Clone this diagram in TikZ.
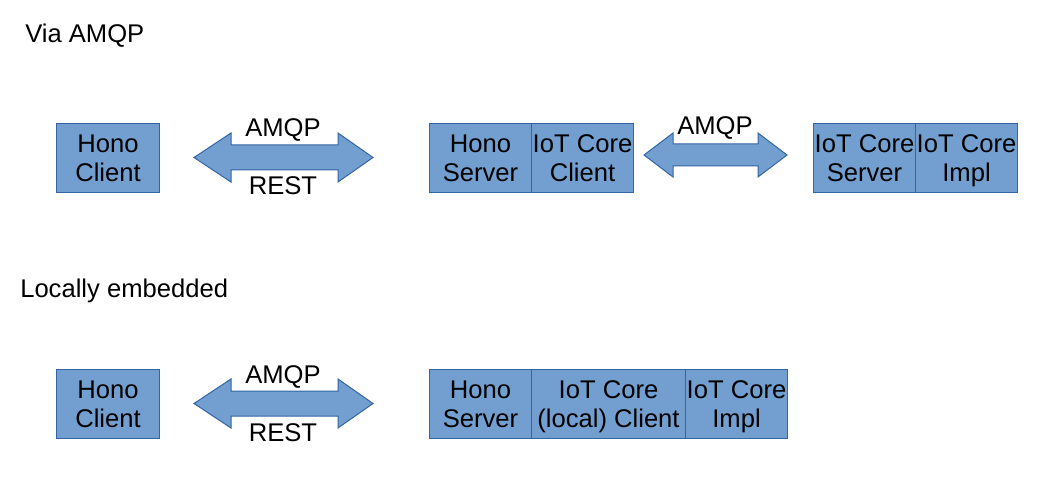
\documentclass[tikz,border=0pt]{standalone}
\usepackage{fontspec}
\setmainfont{Liberation Sans}
\definecolor{fillblue}{HTML}{729FCF}
\definecolor{lineblue}{HTML}{3465A4}
\newcommand{\mystrut}{\rule[-4.25pt]{0pt}{21.7pt}}
\newcommand{\twol}[2]{\mystrut #1\\\mystrut #2}
\begin{document}
\begin{tikzpicture}[x=0.75pt,y=-0.75pt,
  txt/.style={font=\fontsize{19.2}{21.75}\selectfont, inner sep=0},
  box/.style={txt, draw=lineblue, fill=fillblue, line width=0.75pt, align=center, anchor=north west, minimum height=51.75pt},
  arr/.style={draw=lineblue, fill=fillblue, line width=0.75pt, line join=miter},
  lbl/.style={txt, anchor=base}]
\useasboundingbox (0,0) rectangle (1042,481);
\fill[white] (0,0) rectangle (1042,481);

% titles
\node[txt, anchor=base west] (t1) at (25,43) {Via AMQP};
\node[txt, anchor=base west] (t2) at (20,297) {Locally embedded};

% top row
\node[box, minimum width=77.25pt] (hc1) at (56,123) {\twol{Hono}{Client}};
\node[box, minimum width=76.5pt] (hs1) at (429,123) {\twol{Hono}{Server}};
\node[box, minimum width=76.5pt] (icc1) at (531,123) {\twol{IoT Core}{Client}};
\node[box, minimum width=76.5pt] (ics1) at (813,123) {\twol{IoT Core}{Server}};
\node[box, minimum width=76.5pt] (ici1) at (915,123) {\twol{IoT Core}{Impl}};

\draw[arr] (194,157.5) -- (231,133) -- (231,145) -- (338,145) -- (338,133) -- (373,157.5)
  -- (338,182) -- (338,170) -- (231,170) -- (231,182) -- cycle;
\node[lbl] (a1) at (283,137) {AMQP};
\node[lbl] (r1) at (283,195) {REST};

\draw[arr] (644,155) -- (673,133) -- (673,144) -- (758,144) -- (758,133) -- (787,155)
  -- (758,177) -- (758,166) -- (673,166) -- (673,177) -- cycle;
\node[lbl] (a2) at (715,135) {AMQP};

% bottom row
\node[box, minimum width=77.25pt] (hc2) at (56,369) {\twol{Hono}{Client}};
\node[box, minimum width=76.5pt] (hs2) at (429,369) {\twol{Hono}{Server}};
\node[box, minimum width=115.5pt] (icc2) at (531,369) {\twol{IoT Core}{(local) Client}};
\node[box, minimum width=76.5pt] (ici2) at (685,369) {\twol{IoT Core}{Impl}};

\begin{scope}[shift={(0,246)}]
\draw[arr] (194,157.5) -- (231,133) -- (231,145) -- (338,145) -- (338,133) -- (373,157.5)
  -- (338,182) -- (338,170) -- (231,170) -- (231,182) -- cycle;
\node[lbl] (a3) at (283,137) {AMQP};
\node[lbl] (r3) at (283,195) {REST};
\end{scope}
\end{tikzpicture}
\end{document}
